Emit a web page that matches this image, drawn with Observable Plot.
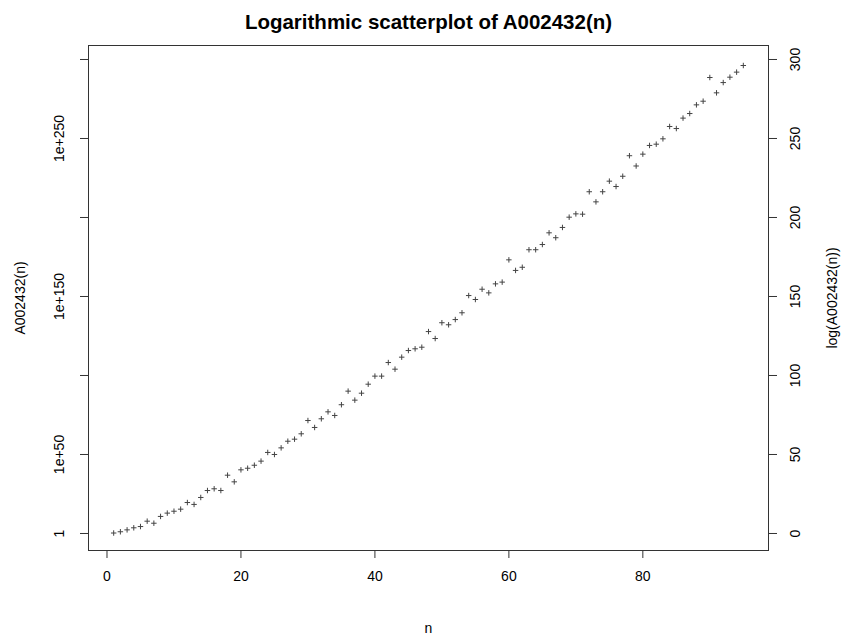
<!DOCTYPE html>
<html><head><meta charset="utf-8">
<script src="https://cdn.jsdelivr.net/npm/d3@7"></script>
<script src="https://cdn.jsdelivr.net/npm/@observablehq/plot@0.6"></script>
<style>body{margin:0;background:#fff}</style>
</head><body><div id="chart"></div>
<script>
const title = "Logarithmic scatterplot of A002432(n)";
const xLabel = "n";
const yLabelLeft = "A002432(n)";
const yLabelRight = "log(A002432(n))";
// log10 of A002432(n), for n = 1..95
const log10Values = [
  0.3, 1.1, 2.3, 3.6, 4.4, 7.8, 6.5, 10.8, 12.9, 14.1,
  15.4, 19.6, 18.4, 22.8, 27.2, 28.3, 27.2, 36.9, 32.7, 40.3,
  41.3, 43.2, 45.8, 51.3, 50.0, 54.2, 58.4, 59.7, 63.1, 71.5,
  67.1, 72.6, 77.0, 74.7, 81.5, 90.1, 84.4, 88.8, 94.5, 99.6,
  99.6, 108.2, 104.0, 111.6, 115.8, 116.9, 117.9, 127.8, 123.4, 133.4,
  132.1, 135.4, 139.7, 150.6, 148.1, 154.6, 152.3, 158.0, 159.1, 173.2,
  166.5, 168.5, 179.6, 179.6, 182.9, 190.3, 187.2, 193.7, 200.2, 202.3,
  202.1, 216.3, 209.9, 216.3, 223.0, 219.6, 226.1, 239.1, 232.6, 240.1,
  245.6, 246.4, 249.8, 257.6, 256.3, 262.9, 265.8, 271.3, 273.6, 288.6,
  278.9, 285.4, 288.8, 292.0, 296.2
];
const xTicks = [0, 20, 40, 60, 80];
const yTicks = [0, 50, 100, 150, 200, 250, 300];
const leftTickLabels = ["1", "1e+50", "", "1e+150", "", "1e+250", ""];
const rightTickLabels = ["0", "50", "100", "150", "200", "250", "300"];

const data = log10Values.map((v, i) => ({n: i + 1, v}));
const ink = "#333";

const chart = Plot.plot({
  width: 846, height: 643,
  marginLeft: 88, marginRight: 78, marginTop: 45, marginBottom: 93,
  x: {domain: [-2.76, 98.76]},
  y: {domain: [-10.76, 308.86]},
  style: {fontFamily: "Liberation Sans, Arial, sans-serif", fontSize: "14px", color: "#000", background: "#fff"},
  marks: [
    Plot.frame({stroke: ink}),
    Plot.axisX({ticks: xTicks, tickSize: 8, tickPadding: 13, label: null, stroke: ink, fontSize: 14}),
    Plot.axisY({anchor: "left", ticks: yTicks, tickSize: 8, tickFormat: () => "", label: null, stroke: ink}),
    Plot.axisY({anchor: "right", ticks: yTicks, tickSize: 8, tickFormat: () => "", label: null, stroke: ink}),
    Plot.text(yTicks, {y: d => d, text: (d, i) => leftTickLabels[i], frameAnchor: "left", dx: -29, rotate: -90, textAnchor: "middle", lineAnchor: "middle", fontSize: 14}),
    Plot.text(yTicks, {y: d => d, text: (d, i) => rightTickLabels[i], frameAnchor: "right", dx: 27, rotate: -90, textAnchor: "middle", lineAnchor: "middle", fontSize: 14}),
    Plot.text([title], {frameAnchor: "top", dy: -23, fontWeight: "bold", fontSize: 20.5, textAnchor: "middle", lineAnchor: "middle"}),
    Plot.text([xLabel], {frameAnchor: "bottom", dy: 78, fontSize: 14, textAnchor: "middle", lineAnchor: "middle"}),
    Plot.text([yLabelLeft], {frameAnchor: "left", dx: -68, rotate: -90, fontSize: 14, textAnchor: "middle", lineAnchor: "middle"}),
    Plot.text([yLabelRight], {frameAnchor: "right", dx: 64, rotate: -90, fontSize: 14, textAnchor: "middle", lineAnchor: "middle"}),
    Plot.dot(data, {x: "n", y: "v", symbol: "plus", r: 1.9, stroke: "#444", strokeWidth: 1})
  ]
});
document.getElementById("chart").appendChild(chart);
</script>
</body></html>
